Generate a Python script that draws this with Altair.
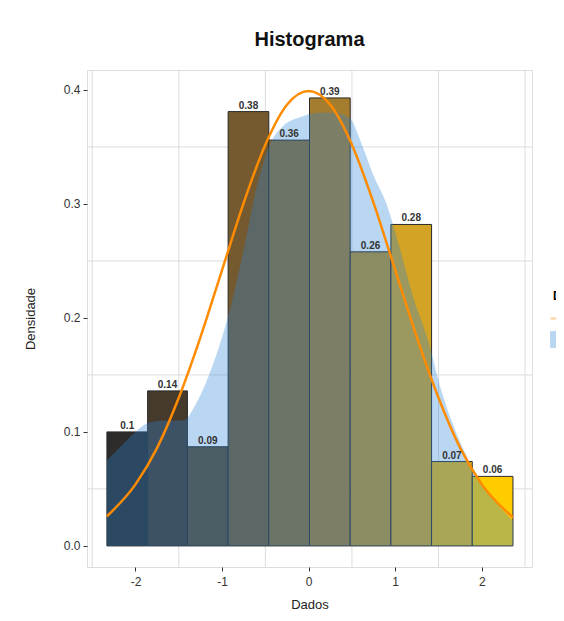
import altair as alt
import pandas as pd

# ---- data ----
bin_edges = [-2.33, -1.86, -1.40, -0.93, -0.46, 0.01, 0.48, 0.95, 1.42, 1.89, 2.36]
densidades = [0.100, 0.136, 0.087, 0.381, 0.356, 0.393, 0.258, 0.282, 0.074, 0.061]

kde_x = [-2.33, -2.2, -2.0, -1.85, -1.65, -1.45, -1.3, -1.15, -1.0, -0.9, -0.75, -0.6,
         -0.45, -0.3, -0.1, 0.1, 0.3, 0.48, 0.6, 0.75, 0.9, 1.05, 1.2, 1.4, 1.5, 1.65,
         1.85, 2.05, 2.2, 2.36]
kde_y = [0.075, 0.085, 0.100, 0.108, 0.110, 0.110, 0.125, 0.150, 0.183, 0.210, 0.260, 0.315,
         0.352, 0.368, 0.376, 0.380, 0.380, 0.375, 0.355, 0.325, 0.300, 0.262, 0.220, 0.175,
         0.145, 0.110, 0.075, 0.050, 0.035, 0.022]

normal_x = [-2.33, -2.0, -1.75, -1.5, -1.25, -1.0, -0.75, -0.5, -0.25, 0.0, 0.25, 0.5,
            0.75, 1.0, 1.25, 1.5, 1.75, 2.0, 2.36]
normal_y = [0.026, 0.054, 0.086, 0.130, 0.183, 0.242, 0.301, 0.352, 0.387, 0.399, 0.387, 0.352,
            0.301, 0.242, 0.183, 0.130, 0.086, 0.054, 0.025]

grid_x = [-2.5, -1.5, -0.5, 0.5, 1.5, 2.5]
grid_y = [0.05, 0.15, 0.25, 0.35]
x_ticks = [-2, -1, 0, 1, 2]
y_ticks = [0.0, 0.1, 0.2, 0.3, 0.4]
series = ["Normal", "Kernel"]

FONT = "Liberation Sans"

bars = pd.DataFrame({
    "ini": bin_edges[:-1],
    "fim": bin_edges[1:],
    "dens": densidades,
})
kde = pd.DataFrame({"x": kde_x, "y": kde_y, "serie": "Kernel"})
norm = pd.DataFrame({"x": normal_x, "y": normal_y, "serie": "Normal"})
gx = pd.DataFrame({"g": grid_x})
gy = pd.DataFrame({"g": grid_y})

xs = alt.Scale(domain=[-2.56, 2.58], nice=False, zero=False)
ys = alt.Scale(domain=[-0.0185, 0.4175], nice=False, zero=False)
cscale = alt.Scale(domain=series, range=["#ff8c00", "#2a86d8"])

x_axis = alt.Axis(values=x_ticks, title="Dados", grid=False, domain=False,
                  tickSize=4, tickColor="#333", labelPadding=5,
                  labelExpr="'' + datum.value", labelFontSize=12,
                  labelColor="#333", labelFont=FONT, titleFont=FONT,
                  titleFontSize=13, titleFontWeight="normal", titleColor="#222",
                  titleY=37, titleBaseline="middle")
y_axis = alt.Axis(values=y_ticks, format=".1f", title="Densidade", grid=False,
                  domain=False, tickSize=4, tickColor="#333", labelPadding=3,
                  labelFontSize=12, labelColor="#333", labelFont=FONT,
                  titleFont=FONT, titleFontSize=13, titleFontWeight="normal",
                  titleColor="#222", titleX=-57, titleBaseline="middle")

grid_v = alt.Chart(gx).mark_rule(color="#dcdcdc", strokeWidth=1).encode(
    x=alt.X("g:Q", scale=xs, axis=x_axis)
)
grid_h = alt.Chart(gy).mark_rule(color="#dcdcdc", strokeWidth=1).encode(
    y=alt.Y("g:Q", scale=ys, axis=y_axis)
)

hist = alt.Chart(bars).transform_calculate(
    centro="(datum.ini + datum.fim) / 2"
).mark_bar(stroke="#2a2a2a", strokeWidth=1, opacity=1).encode(
    x=alt.X("ini:Q", scale=xs, axis=x_axis),
    x2="fim:Q",
    y=alt.Y("dens:Q", scale=ys, axis=y_axis),
    y2=alt.datum(0),
    fill=alt.Fill("centro:Q", legend=None,
                  scale=alt.Scale(range=["#2e2c2a", "#ffcc00"])),
)

area = alt.Chart(kde).mark_area(opacity=0.33, interpolate="monotone").encode(
    x=alt.X("x:Q", scale=xs, axis=x_axis),
    y=alt.Y("y:Q", scale=ys, axis=y_axis),
    y2=alt.datum(0),
    color=alt.Color("serie:N", scale=cscale),
)

legend = alt.Legend(
    orient="none", legendX=466, legendY=221,
    title="Densidades", titleFontSize=12, titleFont=FONT, titlePadding=10,
    labelFont=FONT, labelFontSize=11, symbolSize=250, padding=0, rowPadding=5,
    symbolOpacity=1,
    symbolType=alt.ExprRef(expr="datum.value === 'Normal' ? 'stroke' : 'square'"),
    symbolFillColor=alt.ExprRef(expr="datum.value === 'Normal' ? 'transparent' : '#b9d7f0'"),
    symbolStrokeColor=alt.ExprRef(expr="datum.value === 'Normal' ? '#ff8c00' : '#c8c8c8'"),
    symbolStrokeWidth=alt.ExprRef(expr="datum.value === 'Normal' ? 2.5 : 1"),
)

line = alt.Chart(norm).mark_line(strokeWidth=2.5, interpolate="monotone").encode(
    x=alt.X("x:Q", scale=xs, axis=x_axis),
    y=alt.Y("y:Q", scale=ys, axis=y_axis),
    color=alt.Color("serie:N", scale=cscale, legend=legend),
)

labels = alt.Chart(bars).transform_calculate(
    centro="(datum.ini + datum.fim) / 2"
).mark_text(baseline="bottom", dy=-1, fontSize=10, fontWeight="bold",
            color="#333", font=FONT).encode(
    x=alt.X("centro:Q", scale=xs, axis=x_axis),
    y=alt.Y("dens:Q", scale=ys, axis=y_axis),
    text=alt.Text("dens:Q", format=".2~f"),
)

chart = alt.layer(grid_v, grid_h, hist, area, line, labels).properties(
    width=445,
    height=497,
    padding={"left": 79, "top": 62, "right": 24, "bottom": 46},
    autosize=alt.AutoSizeParams(type="none"),
    title=alt.Title("Histograma", fontSize=20, fontWeight="bold", font=FONT,
                    anchor="middle", color="#111", offset=20),
).configure_view(stroke="#666", strokeWidth=1.2).configure(background="white")

chart.save("out.html", embed_options={"renderer": "svg", "actions": False})
